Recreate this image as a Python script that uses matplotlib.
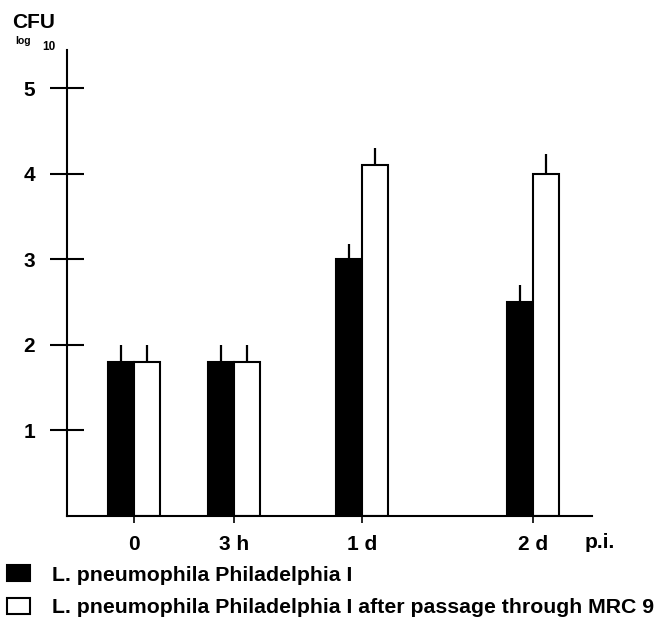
import numpy as np
import matplotlib
matplotlib.use('Agg')
import matplotlib.pyplot as plt

plt.rcParams['font.family'] = ['Liberation Sans', 'DejaVu Sans']
plt.rcParams['font.weight'] = 'bold'

# data (log10 CFU)
times = ['0', '3 h', '1 d', '2 d']
phil = [1.8, 1.8, 3.0, 2.5]
phil_err = [0.2, 0.2, 0.18, 0.2]
mrc9 = [1.8, 1.8, 4.1, 4.0]
mrc9_err = [0.2, 0.2, 0.2, 0.23]
legend_labels = ['L. pneumophila Philadelphia I',
                 'L. pneumophila Philadelphia I after passage through MRC 9']

# horizontal layout of the groups (the time axis is not linear)
group_x = np.array([67, 167, 295, 466])
w = 26

fig = plt.figure(figsize=(6.6, 6.2), dpi=100)
ax = fig.add_axes([67/660, 104/620, 525/660, 466/620])

b1 = ax.bar(group_x - w/2, phil, w, color='black', edgecolor='black', linewidth=1.5)
b2 = ax.bar(group_x + w/2, mrc9, w, color='white', edgecolor='black', linewidth=1.5)
ax.errorbar(group_x - w/2, phil, yerr=[np.zeros(4), phil_err], fmt='none',
            ecolor='black', elinewidth=1.6, capsize=0)
ax.errorbar(group_x + w/2, mrc9, yerr=[np.zeros(4), mrc9_err], fmt='none',
            ecolor='black', elinewidth=1.6, capsize=0)

ax.set_xlim(0, 525)
ax.set_ylim(0, 5.45)
ax.spines['top'].set_visible(False)
ax.spines['right'].set_visible(False)
ax.spines['left'].set_linewidth(1.5)
ax.spines['bottom'].set_linewidth(1.5)

ax.set_yticks([1, 2, 3, 4, 5])
ax.set_yticklabels(['1', '2', '3', '4', '5'], fontsize=15, fontweight='bold')
ax.tick_params(axis='y', direction='inout', length=24, width=1.5, pad=11)
ax.set_xticks(group_x)
ax.set_xticklabels(times, fontsize=15, fontweight='bold')
ax.tick_params(axis='x', direction='out', length=5, width=1.2, pad=9)

fig.text(600/660, 1 - 543/620, 'p.i.', ha='center', va='center', fontsize=15, fontweight='bold')
fig.text(12/660, 1 - 22/620, 'CFU', ha='left', va='center', fontsize=15, fontweight='bold')
fig.text(15/660, 1 - 41/620, 'log', ha='left', va='center', fontsize=7.5, fontweight='bold')
fig.text(42/660, 1 - 47/620, '10', ha='left', va='center', fontsize=8.5, fontweight='bold')

fig.legend([b1, b2], legend_labels, loc='upper left', bbox_to_anchor=(7/660, 1 - 565/620),
           frameon=False, handlelength=1.1, handleheight=0.8,
           handletextpad=1.0, labelspacing=0.62, borderpad=0, borderaxespad=0,
           prop={'weight': 'bold', 'size': 15.3})

fig.savefig('out.png', dpi=100)
